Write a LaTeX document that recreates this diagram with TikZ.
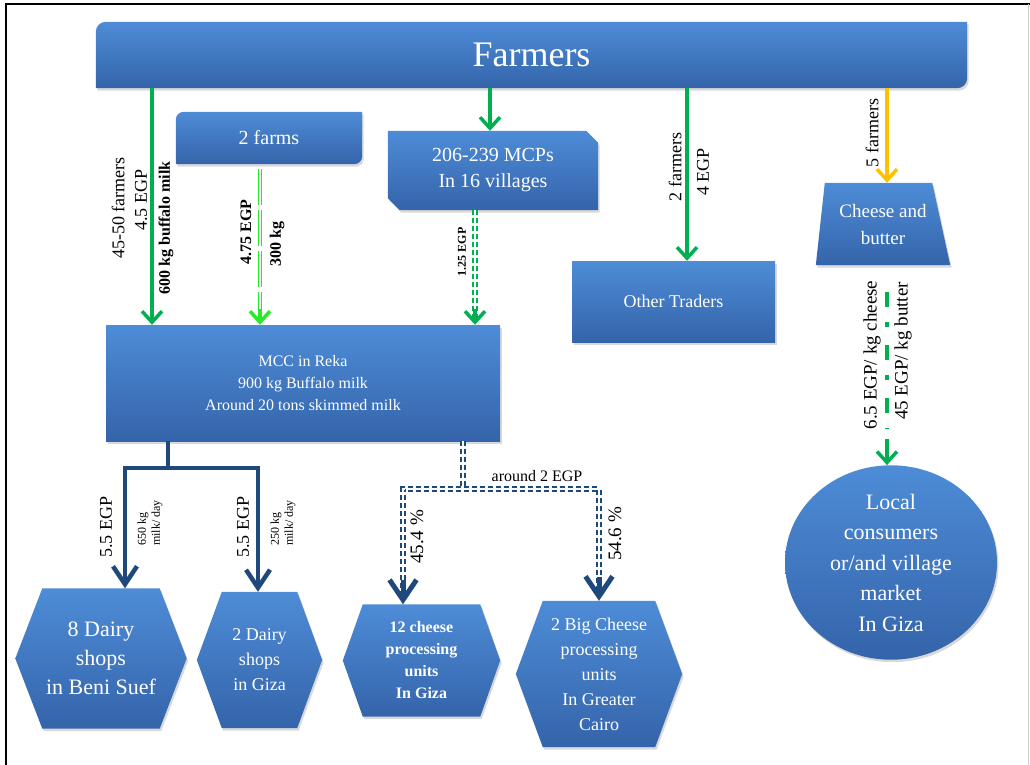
\documentclass[tikz,border=0pt]{standalone}
\usepackage{fontspec}
\setmainfont{Liberation Serif}
\usetikzlibrary{shapes.geometric, arrows.meta, backgrounds, calc, shadows}

\definecolor{boxtop}{RGB}{78,140,215}
\definecolor{boxbot}{RGB}{52,100,170}
\definecolor{mygreen}{RGB}{0,176,80}
\definecolor{mylime}{RGB}{40,235,40}
\definecolor{myorange}{RGB}{255,192,0}
\definecolor{mynavy}{RGB}{31,73,125}

\newcommand{\fsz}[2]{\fontsize{#1}{#2}\selectfont}

\tikzstyle{holder} = [rectangle, text=white, align=center, inner sep=0pt]
\tikzstyle{blueshade} = [top color=boxtop, bottom color=boxbot, drop shadow={opacity=0.3, shadow xshift=1.5pt, shadow yshift=-2.5pt}]
\tikzstyle{garrow} = [line width=3.5pt, draw=mygreen, -{Straight Barb[length=11pt,width=20pt]}]
\tikzstyle{larrow} = [garrow, draw=mylime]
\tikzstyle{oarrow} = [garrow, draw=myorange]
\tikzstyle{navyline} = [line width=4.5pt, draw=mynavy]
\tikzstyle{navyarrow} = [navyline, -{Straight Barb[length=18pt,width=24pt]}]
\tikzstyle{navytip} = [draw=mynavy, line width=5pt, -{Straight Barb[length=20pt,width=27pt]}]
\tikzstyle{navydash} = [draw=mynavy, line width=1.8pt, double=white, double distance=1.8pt, dash pattern=on 5pt off 3pt]
\tikzstyle{greendash} = [navydash, draw=mygreen]
\tikzstyle{limedash} = [draw=mylime, line width=1.2pt, double=white, double distance=2pt, dash pattern=on 36pt off 5pt]
\tikzstyle{dashdot} = [draw=mygreen, line width=4pt, dash pattern=on 15pt off 15pt on 5pt off 18pt]
\tikzstyle{lab} = [rotate=90, inner sep=0pt]

\begin{document}
\begin{tikzpicture}[x=1pt, y=-1pt]
        \useasboundingbox (0,0) rectangle (1030,765);
        \draw[line width=1.2pt] (6,765) -- (6,4) -- (1030,4);
        \draw[black!20, line width=1pt] (1028,4) -- (1028,765);
        % boxes
        \node[holder, minimum width=871pt, minimum height=66pt, font=\fsz{36}{40}] (farmers) at (531.5,55) {Farmers};
        \node[holder, minimum width=186pt, minimum height=52pt, font=\fsz{20}{24}] (farms) at (269,138) {2 farms};
        \node[holder, minimum width=210pt, minimum height=79pt, font=\fsz{20}{26}] (mcp) at (493,170.5) {206-239 MCPs\\In 16 villages};
        \node[holder, blueshade, minimum width=203pt, minimum height=81pt, font=\fsz{18}{22}] (traders) at (673.5,301.5) {Other Traders};
        \node[holder, minimum width=134pt, minimum height=82pt, font=\fsz{19}{27}] (cheese) at (883,224) {Cheese and\\butter};
        \node[holder, blueshade, minimum width=394pt, minimum height=116pt, font=\fsz{16}{22}] (mcc) at (303,383) {MCC in Reka\\900 kg Buffalo milk\\Around 20 tons skimmed milk};
        \node[holder, minimum width=171pt, minimum height=140pt, font=\fsz{22}{29}] (hexBeni) at (101,658.5) {8 Dairy\\shops\\in Beni Suef};
        \node[holder, minimum width=125pt, minimum height=136pt, font=\fsz{18}{25}] (hexGiza) at (259.5,660) {2 Dairy\\shops\\in Giza};
        \node[holder, minimum width=157pt, minimum height=112pt, font=\bfseries\fsz{16}{22}] (hexUnits) at (421.5,660.5) {12 cheese\\processing\\units\\In Giza};
        \node[holder, minimum width=166pt, minimum height=146pt, font=\fsz{18}{25}] (hexCairo) at (599,674) {2 Big Cheese\\processing\\units\\In Greater\\Cairo};
        \node[holder, ellipse, blueshade, minimum width=212pt, minimum height=189pt, font=\fsz{22}{30.5}] (local) at (891,562.5) {Local\\consumers\\or/and village\\market\\In Giza};
        \begin{pgfonlayer}{background}
        \shade[blueshade] [rounded corners=10pt] (farmers.north west) rectangle (farmers.south east)
            [sharp corners] ($(farmers.north east)+(-15,0)$) rectangle ($(farmers.north east)+(0,15)$)
            ($(farmers.south west)+(0,-15)$) rectangle ($(farmers.south west)+(15,0)$);
        \shade[blueshade] [rounded corners=8pt] (farms.north west) rectangle (farms.south east)
            [sharp corners] ($(farms.north east)+(-12,0)$) rectangle ($(farms.north east)+(0,12)$)
            ($(farms.south west)+(0,-12)$) rectangle ($(farms.south west)+(12,0)$);
        \shade[blueshade] (mcp.north west) -- ($(mcp.north east)+(-12,0)$) -- ($(mcp.north east)+(0,12)$)
            -- (mcp.south east) -- ($(mcp.south west)+(12,0)$) -- ($(mcp.south west)+(0,-12)$) -- cycle;
        \shade[blueshade] ($(cheese.north west)+(9,0)$) -- ($(cheese.north east)+(-18,0)$) -- (cheese.south east) -- (cheese.south west) -- cycle;
        \foreach \h/\s in {hexBeni/27, hexGiza/25, hexUnits/20, hexCairo/27}
            \shade[blueshade] (\h.west) -- ($(\h.north west)+(\s,0)$) -- ($(\h.north east)+(-\s,0)$) -- (\h.east)
                -- ($(\h.south east)+(-\s,0)$) -- ($(\h.south west)+(\s,0)$) -- cycle;
        \end{pgfonlayer}
        % where the lines go down
        \coordinate (xa) at (152,0);
        \coordinate (xb) at (260,0);
        \coordinate (xc) at (490,0);
        \coordinate (xd) at (475,0);
        \coordinate (xe) at (687,0);
        \coordinate (xg) at (887,0);
        \coordinate (splitH) at (168,468);
        \coordinate (leftH) at (125,468);
        \coordinate (rightH) at (258,468);
        \coordinate (splitI) at (463,489);
        \coordinate (leftI) at (403,489);
        \coordinate (rightI) at (599,489);
        % from the farmers
        \draw[garrow] (farmers.south -| xa) -- (mcc.north -| xa);
        \draw[limedash] ($(farms.south -| xb)+(0,5)$) -- ($(mcc.north -| xb)+(0,-6)$);
        \draw[larrow] ($(mcc.north -| xb)+(0,-16)$) -- (mcc.north -| xb);
        \draw[garrow] (farmers.south -| xc) -- (mcp.north -| xc);
        \draw[greendash] (mcp.south -| xd) -- ($(mcc.north -| xd)+(0,-6)$);
        \draw[garrow] ($(mcc.north -| xd)+(0,-16)$) -- (mcc.north -| xd);
        \draw[garrow] (farmers.south -| xe) -- (traders.north -| xe);
        \draw[oarrow] (farmers.south -| xg) -- (cheese.north -| xg);
        \draw[dashdot] ($(cheese.south -| xg)+(0,27)$) -- ($(local.north -| xg)+(0,-36)$);
        \draw[garrow] ($(local.north -| xg)+(0,-26)$) -- (local.north -| xg);
        % from the MCC
        \draw[navyline] (mcc.south -| splitH) -- (splitH);
        \draw[navyarrow] (rightH) -- (leftH) -- (hexBeni.north -| leftH);
        \draw[navyarrow] (leftH) -- (rightH) -- (hexGiza.north -| rightH);
        \draw[navydash] (mcc.south -| splitI) -- (splitI);
        \draw[navydash] ($(hexUnits.north -| leftI)+(0,-8)$) -- (leftI) -- (rightI) -- ($(hexCairo.north -| rightI)+(0,-8)$);
        \draw[navytip] ($(hexUnits.north -| leftI)+(0,-24)$) -- (hexUnits.north -| leftI);
        \draw[navytip] ($(hexCairo.north -| rightI)+(0,-24)$) -- (hexCairo.north -| rightI);
        % labels
        \node[lab, font=\fsz{18}{21}] (lA1) at (118,208) {45-50 farmers};
        \node[lab, font=\fsz{18}{21}] (lA2) at (141,200) {4.5 EGP};
        \node[lab, font=\bfseries\fsz{16}{19}] (lA3) at (166,228) {600 kg buffalo milk};
        \node[lab, font=\bfseries\fsz{16}{19}] (lB1) at (246,232) {4.75 EGP};
        \node[lab, font=\bfseries\fsz{16}{19}] (lB2) at (277,244) {300 kg};
        \node[lab, font=\bfseries\fsz{12}{14}] (lD) at (462,252) {1.25 EGP};
        \node[lab, font=\fsz{18}{21}] (lE1) at (675,167) {2 farmers};
        \node[lab, font=\fsz{18}{21}] (lE2) at (703,172) {4 EGP};
        \node[lab, font=\fsz{18}{21}] (lF) at (872,133) {5 farmers};
        \node[lab, font=\fsz{19}{22}] (lG1) at (872,355) {6.5 EGP/ kg cheese};
        \node[lab, font=\fsz{19}{22}] (lG2) at (903,351) {45 EGP/ kg butter};
        \node[lab, font=\fsz{18}{21}] (lH1) at (106,527) {5.5 EGP};
        \node[lab, font=\fsz{12}{14}, align=left] (lH2) at (150,523) {650 kg\\milk/ day};
        \node[lab, font=\fsz{18}{21}] (lH3) at (243,527) {5.5 EGP};
        \node[lab, font=\fsz{12}{14}, align=left] (lH4) at (283,523) {250 kg\\milk/ day};
        \node[inner sep=0pt, font=\fsz{16}{19}] (lI1) at (537,476) {around 2 EGP};
        \node[lab, font=\fsz{19}{22}] (lI2) at (417,537) {45.4 \%};
        \node[lab, font=\fsz{19}{22}] (lI3) at (615,534) {54.6 \%};
\end{tikzpicture}
\end{document}
